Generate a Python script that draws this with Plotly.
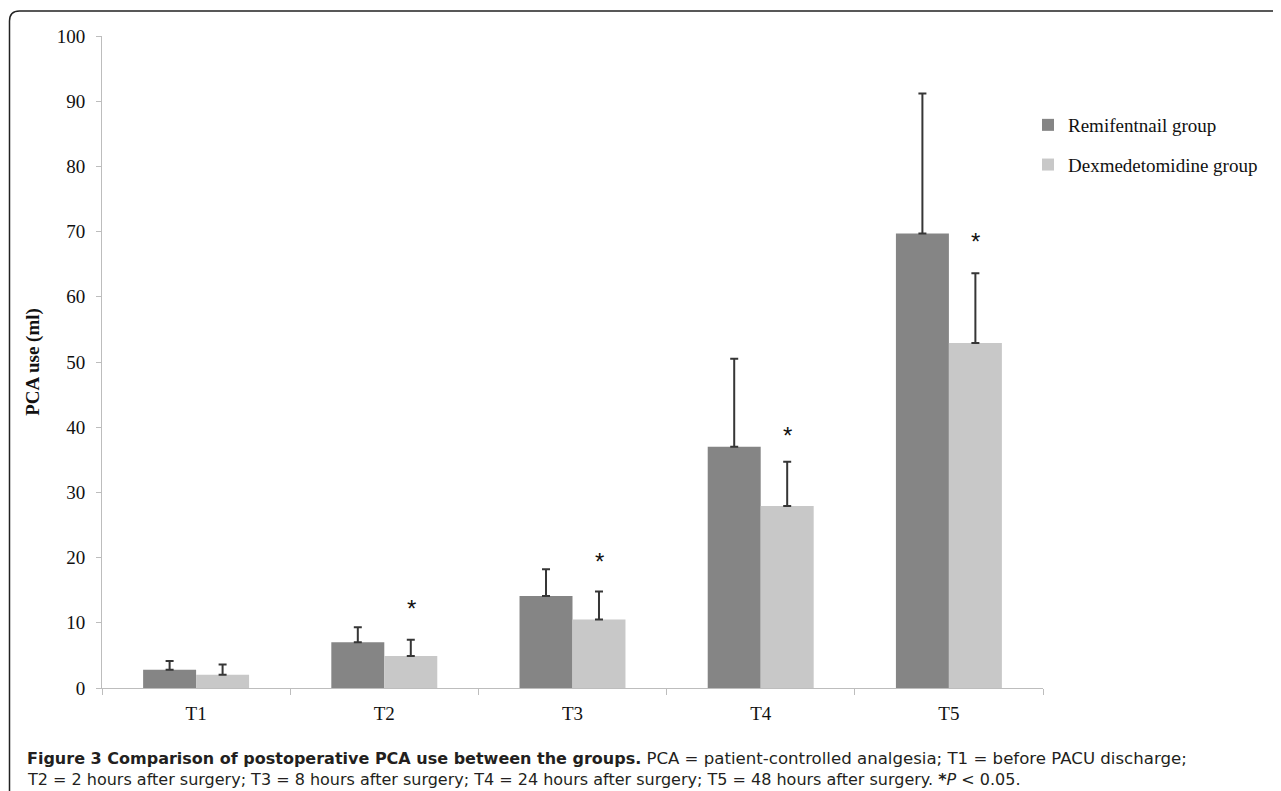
import plotly.graph_objects as go

categories = ["T1", "T2", "T3", "T4", "T5"]
remi_mean = [2.8, 7.0, 14.1, 37.0, 69.7]
remi_sd = [1.35, 2.3, 4.1, 13.5, 21.5]
dex_mean = [2.05, 4.9, 10.5, 27.9, 52.9]
dex_sd = [1.55, 2.5, 4.3, 6.8, 10.7]
star_y = [None, 13.0, 20.1, 39.5, 69.2]
y_ticks = [0, 10, 20, 30, 40, 50, 60, 70, 80, 90, 100]

# page offset (default body margin) compensated
O = 8
W, H = 1281 - O, 791 - O
L, T = 102 - O, 36 - O
R = W - (1043 - O)
B = H - (688 - O)
PW, PH = W - L - R, H - T - B


def px(xs):
    """screen x pixel -> paper"""
    return (xs - O - L) / PW


def py(ys):
    """screen y pixel -> paper"""
    return (H - B - (ys - O)) / PH


SERIF = "Liberation Serif, Times New Roman, serif"
SANS = "DejaVu Sans, Noto Sans, sans-serif"

fig = go.Figure()
fig.add_trace(go.Bar(
    x=categories, y=remi_mean, name="Remifentnail group",
    marker=dict(color="#858585", line=dict(width=0)),
    error_y=dict(type="data", array=remi_sd, arrayminus=[0] * 5, symmetric=False,
                 color="#363636", thickness=2, width=4),
    legendgroup="a",
))
fig.add_trace(go.Bar(
    x=categories, y=dex_mean, name="Dexmedetomidine group",
    marker=dict(color="#c8c8c8", line=dict(width=0)),
    error_y=dict(type="data", array=dex_sd, arrayminus=[0] * 5, symmetric=False,
                 color="#363636", thickness=2, width=4),
    legendgroup="b",
))

annotations = []
for c, s in zip(categories, star_y):
    if s is None:
        continue
    annotations.append(dict(x=c, y=s, xref="x", yref="y", text="*", showarrow=False,
                            xshift=27, yshift=-5,
                            font=dict(family="Liberation Sans, Arial, sans-serif", size=24, color="#111")))

annotations.append(dict(
    x=px(25), y=py(758), xref="paper", yref="paper", xanchor="left", yanchor="middle",
    showarrow=False, align="left",
    text="<b>Figure 3 Comparison of postoperative PCA use between the groups.</b> "
         "<span style='font-size:16.6px'>PCA = patient-controlled analgesia; T1 = before PACU discharge;</span>",
    font=dict(family=SANS, size=16, color="#231f20"),
))
annotations.append(dict(
    x=px(25), y=py(779), xref="paper", yref="paper", xanchor="left", yanchor="middle",
    showarrow=False, align="left",
    text="T2 = 2 hours after surgery; T3 = 8 hours after surgery; T4 = 24 hours after surgery; T5 = 48 hours after surgery. <b>*</b><i>P</i> < 0.05.",
    font=dict(family=SANS, size=16, color="#231f20"),
))

# rounded border of the figure box (screen pixels)
r = 10
lx, ty = 9.5, 11
path = (f"M {px(lx)},{py(820)} L {px(lx)},{py(ty + r)} "
        f"Q {px(lx)},{py(ty)} {px(lx + r)},{py(ty)} L {px(1300)},{py(ty)}")
shapes = [dict(type="path", xref="paper", yref="paper", path=path,
               line=dict(color="#222", width=1.5))]

fig.update_layout(
    width=W, height=H,
    margin=dict(l=L, r=R, t=T, b=B, autoexpand=False),
    paper_bgcolor="white", plot_bgcolor="white",
    barmode="group", bargap=0.437, bargroupgap=0,
    showlegend=True,
    legend=dict(x=px(1028), y=py(106), xanchor="left", yanchor="top",
                font=dict(family=SERIF, size=19, color="#111"),
                tracegroupgap=12, bgcolor="rgba(0,0,0,0)", itemwidth=30),
    annotations=annotations,
    shapes=shapes,
    xaxis=dict(
        showline=True, linecolor="#bdbdbd", linewidth=1,
        ticks="outside", tickson="boundaries", ticklen=6, tickcolor="#bdbdbd",
        tickfont=dict(family=SERIF, size=19, color="#111"),
        showgrid=False, zeroline=False, ticklabelstandoff=8,
    ),
    yaxis=dict(
        range=[0, 100], tickvals=y_ticks,
        showline=True, linecolor="#bdbdbd", linewidth=1,
        ticks="outside", ticklen=5, tickcolor="#bdbdbd",
        tickfont=dict(family=SERIF, size=19, color="#111"),
        showgrid=False, zeroline=False, ticklabelstandoff=7,
        title=dict(text="<b>PCA use (ml)</b>", font=dict(family=SERIF, size=19, color="#111"), standoff=12),
    ),
)

fig.write_html("out.html")
